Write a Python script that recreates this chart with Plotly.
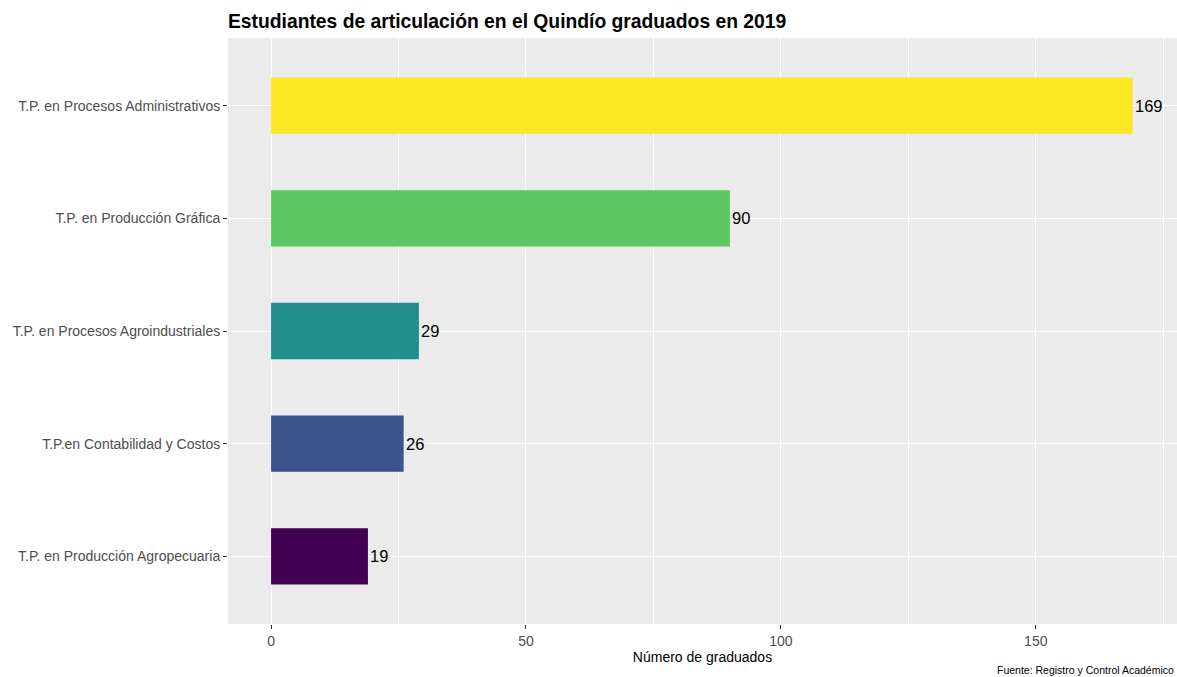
import plotly.graph_objects as go

categorias = [
    "T.P. en Producción Agropecuaria",
    "T.P.en Contabilidad y Costos",
    "T.P. en Procesos Agroindustriales",
    "T.P. en Producción Gráfica",
    "T.P. en Procesos Administrativos",
]
graduados = [19, 26, 29, 90, 169]
colores = ["#440154", "#3B528B", "#21908C", "#5DC863", "#FDE725"]
ticks_x = [0, 50, 100, 150]

W, H = 1177, 677
ML, MR, MT, MB = 228, 0, 38, 53
fig = go.Figure()
fig.add_trace(go.Bar(
    x=graduados, y=categorias, orientation="h",
    marker=dict(color=colores, line=dict(width=0)),
    width=0.5, hoverinfo="x+y",
))
for c, v in zip(categorias, graduados):
    fig.add_annotation(x=v, y=c, text=str(v), showarrow=False,
                       xanchor="left", yanchor="middle", xshift=0,
                       font=dict(size=16.5, color="black", family="Liberation Sans"))

fig.update_layout(
    width=W, height=H,
    margin=dict(l=ML, r=MR, t=MT, b=MB),
    plot_bgcolor="#EBEBEB", paper_bgcolor="white",
    showlegend=False,
    font=dict(family="Liberation Sans", color="#4D4D4D"),
    title=dict(text="<b>Estudiantes de articulación en el Quindío graduados en 2019</b>",
               x=ML / W, xanchor="left", xref="container",
               y=1 - 21 / H, yanchor="middle", yref="container",
               font=dict(size=19.3, color="black", family="Liberation Sans")),
    xaxis=dict(range=[-8.45, 177.7], tickvals=ticks_x, showgrid=True,
               gridcolor="white", gridwidth=1.2, zeroline=False,
               ticks="outside", ticklen=4, tickcolor="#333333", tickwidth=1,
               tickfont=dict(size=14, color="#4D4D4D"),
               minor=dict(tickvals=[25, 75, 125, 175], showgrid=True,
                          gridcolor="white", gridwidth=0.5, ticks=""),
               title=dict(text="Número de graduados", standoff=2,
                          font=dict(size=14, color="black"))),
    yaxis=dict(categoryorder="array", categoryarray=categorias,
               range=[-0.6, 4.6], showgrid=True, gridcolor="white", gridwidth=1.2,
               zeroline=False, ticks="outside", ticklen=4, tickcolor="#333333",
               tickwidth=1, tickfont=dict(size=14, color="#4D4D4D")),
)
plot_h = H - MT - MB
fig.add_annotation(text="Fuente: Registro y Control Académico",
                   xref="paper", yref="paper", x=1, xshift=-1,
                   y=-(670 - MT - plot_h) / plot_h,
                   xanchor="right", yanchor="middle", showarrow=False,
                   font=dict(size=10.5, color="black"))
fig.write_html("out.html", config={"displayModeBar": False},
               post_script="document.body.style.margin='0';document.body.style.overflow='hidden';")
